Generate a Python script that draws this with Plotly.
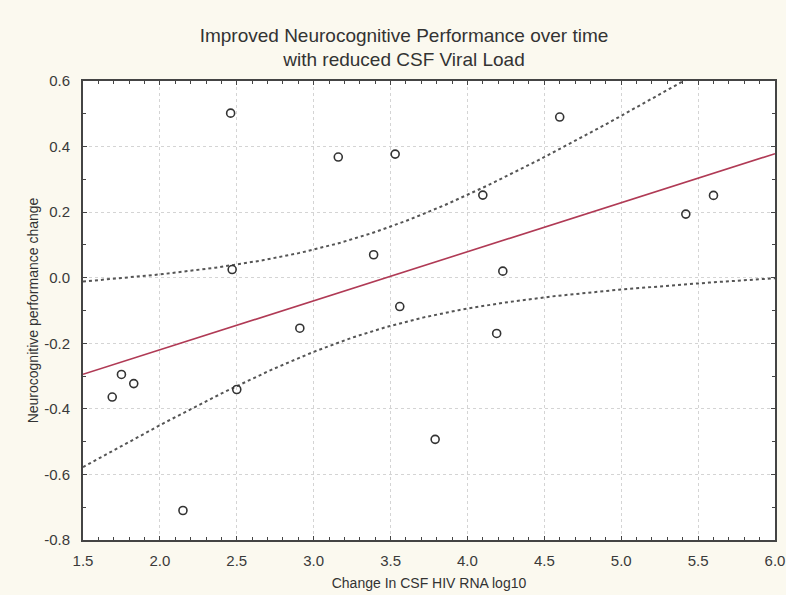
import numpy as np
import plotly.graph_objects as go

# Data
csf_change = [1.69, 1.75, 1.83, 2.15, 2.46, 2.47, 2.50, 2.91, 3.16, 3.39,
              3.53, 3.56, 3.79, 4.10, 4.19, 4.23, 4.60, 5.42, 5.60]
neuro_change = [-0.364, -0.295, -0.323, -0.710, 0.502, 0.025, -0.341, -0.154, 0.368, 0.070,
                0.377, -0.088, -0.493, 0.252, -0.170, 0.020, 0.490, 0.194, 0.251]

x_ticks = [1.5, 2.0, 2.5, 3.0, 3.5, 4.0, 4.5, 5.0, 5.5, 6.0]
y_ticks = [-0.8, -0.6, -0.4, -0.2, 0.0, 0.2, 0.4, 0.6]

x = np.array(csf_change)
y = np.array(neuro_change)
n = len(x)
slope, intercept = np.polyfit(x, y, 1)
resid = y - (slope * x + intercept)
s = np.sqrt(np.sum(resid ** 2) / (n - 2))
xm = x.mean()
sxx = np.sum((x - xm) ** 2)
t = 2.110  # t(0.975, df=17)
xs = np.linspace(1.5, 6.0, 200)
yfit = slope * xs + intercept
half = t * s * np.sqrt(1.0 / n + (xs - xm) ** 2 / sxx)

FONT = "Liberation Sans Narrow, Arial Narrow, Liberation Sans, Arial"

fig = go.Figure()
fig.add_trace(go.Scatter(x=xs, y=yfit + half, mode="lines",
                         line=dict(color="#555555", width=2, dash="dot"),
                         hoverinfo="skip", showlegend=False))
fig.add_trace(go.Scatter(x=xs, y=yfit - half, mode="lines",
                         line=dict(color="#555555", width=2, dash="dot"),
                         hoverinfo="skip", showlegend=False))
fig.add_trace(go.Scatter(x=xs, y=yfit, mode="lines",
                         line=dict(color="#b03a55", width=1.6),
                         showlegend=False))
fig.add_trace(go.Scatter(x=csf_change, y=neuro_change, mode="markers",
                         marker=dict(symbol="circle-open", size=8,
                                     color="#333333", line=dict(width=1.6)),
                         showlegend=False))

axis_common = dict(
    showline=True, linecolor="#444444", linewidth=2, mirror="allticks",
    ticks="inside", ticklen=4, tickwidth=1, tickcolor="#444444",
    showgrid=True, gridcolor="#d4d4d4", griddash="dot", gridwidth=1,
    zeroline=False, automargin=False, ticklabeloverflow="allow",
    tickfont=dict(family=FONT, size=15, color="#3a3a3a"),
    minor=dict(ticks="inside", ticklen=3, tickcolor="#444444", showgrid=False),
)

fig.update_layout(
    width=786, height=595,
    paper_bgcolor="#fbf9ef", plot_bgcolor="#ffffff",
    margin=dict(l=83, r=11, t=81, b=55),
    title=dict(text="Improved Neurocognitive Performance over time<br>with reduced CSF Viral Load",
               x=0.514, xanchor="center", y=0.93, yanchor="top",
               font=dict(family=FONT, size=19, color="#333333")),
    xaxis=dict(range=[1.5, 6.0], tickvals=x_ticks,
               ticktext=[f"{v:.1f}" for v in x_ticks], ticklabelstandoff=6,
               title=dict(text="Change In CSF HIV RNA log10", standoff=10,
                          font=dict(family=FONT, size=14, color="#333333")),
               **axis_common),
    yaxis=dict(range=[-0.8, 0.6], tickvals=y_ticks,
               ticktext=[f"{v:.1f}" for v in y_ticks], ticklabelstandoff=8,
               title=dict(text="Neurocognitive performance change", standoff=2,
                          font=dict(family=FONT, size=14, color="#333333")),
               **axis_common),
)
fig.update_xaxes(minor=dict(dtick=0.1, tick0=1.5))
fig.update_yaxes(minor=dict(dtick=0.1, tick0=-0.8))

fig.write_html("out.html", config={"displayModeBar": False},
               post_script="document.body.style.margin='0';document.body.style.background='#fbf9ef';")
